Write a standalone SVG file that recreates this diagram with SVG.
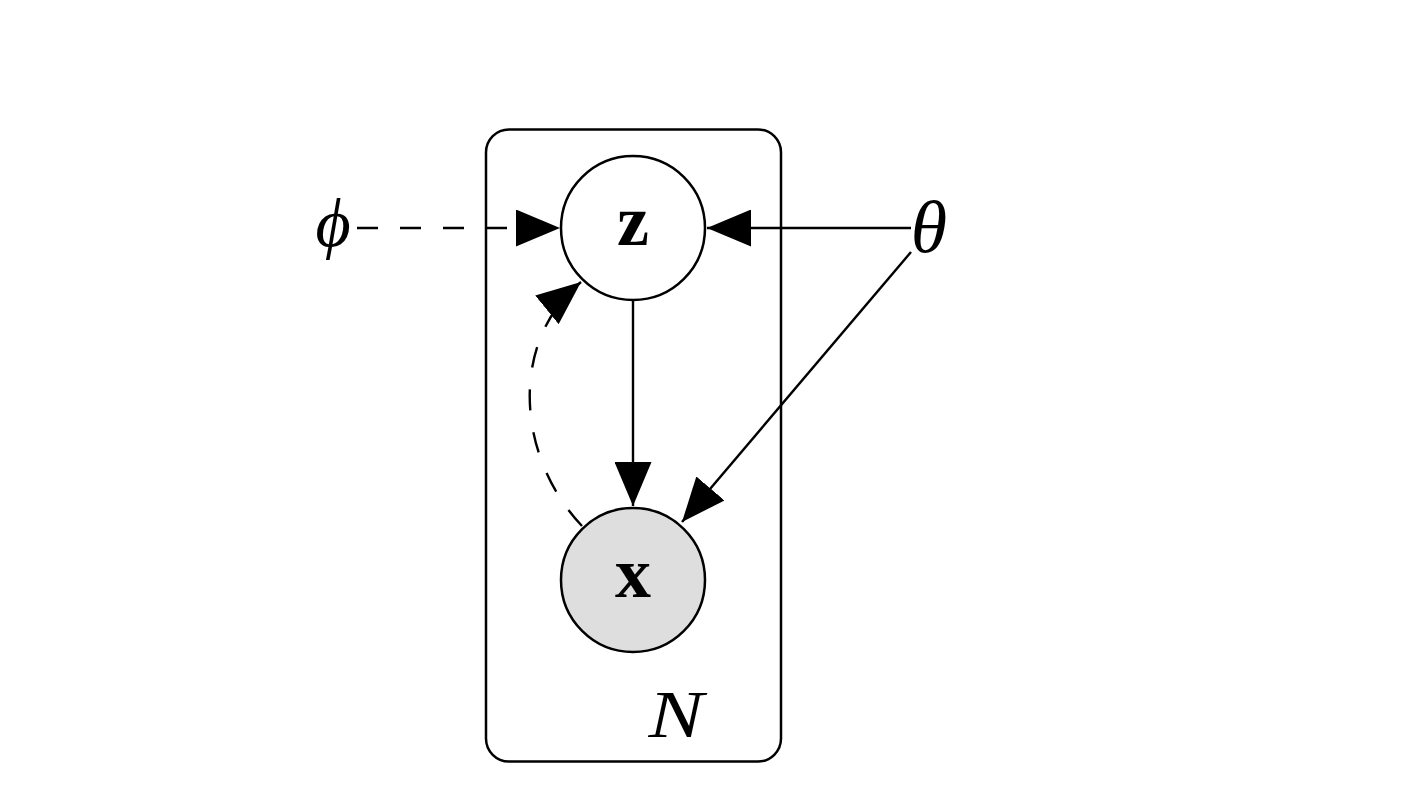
<svg xmlns="http://www.w3.org/2000/svg" width="1416" height="800" viewBox="0 0 1416 800">
<style>
.plate{fill:none;stroke:#000;stroke-width:2.5}
.node{stroke:#000;stroke-width:2.5}
.edge{fill:none;stroke:#000;stroke-width:2.4}
.dash{stroke-dasharray:21 22}
.lbl{font-family:"Liberation Serif","DejaVu Serif",serif;fill:#000;text-anchor:middle}
.b{font-weight:bold;font-size:72px}
.i{font-style:italic}
</style>
<defs>
<marker id="ah" viewBox="0 0 44 37" refX="44" refY="18.5" markerUnits="userSpaceOnUse" markerWidth="44" markerHeight="37" orient="auto">
<path d="M0,0 L44,18.5 L0,37 z" fill="#000"/>
</marker>
</defs>
<rect width="1416" height="800" fill="#fff"/>
<g id="plate">
<rect class="plate" x="486" y="129.5" width="295" height="632" rx="23"/>
<text class="lbl i" x="676" y="737" font-size="68" textLength="55" lengthAdjust="spacingAndGlyphs">N</text>
</g>
<g id="connectors">
<line class="edge dash" x1="357" y1="228" x2="560" y2="228" marker-end="url(#ah)"/>
<line class="edge" x1="911" y1="228" x2="707" y2="228" marker-end="url(#ah)"/>
<line class="edge" x1="633" y1="300" x2="633" y2="506" marker-end="url(#ah)"/>
<line class="edge" x1="911" y1="252" x2="682" y2="522" marker-end="url(#ah)"/>
<path class="edge dash" d="M582,526 C515,455 510,340 581,282" marker-end="url(#ah)"/>
</g>
<g id="node-z">
<circle class="node" cx="633" cy="228" r="72" fill="#fff"/>
<text class="lbl b" x="633" y="245">z</text>
</g>
<g id="node-x">
<circle class="node" cx="633" cy="580" r="72" fill="#dedede"/>
<text class="lbl b" x="633" y="597">x</text>
</g>
<g id="node-phi">
<text class="lbl i" x="333" y="246" font-size="68">ϕ</text>
</g>
<g id="node-theta">
<text class="lbl i" x="929" y="252" font-size="74">θ</text>
</g>
</svg>
